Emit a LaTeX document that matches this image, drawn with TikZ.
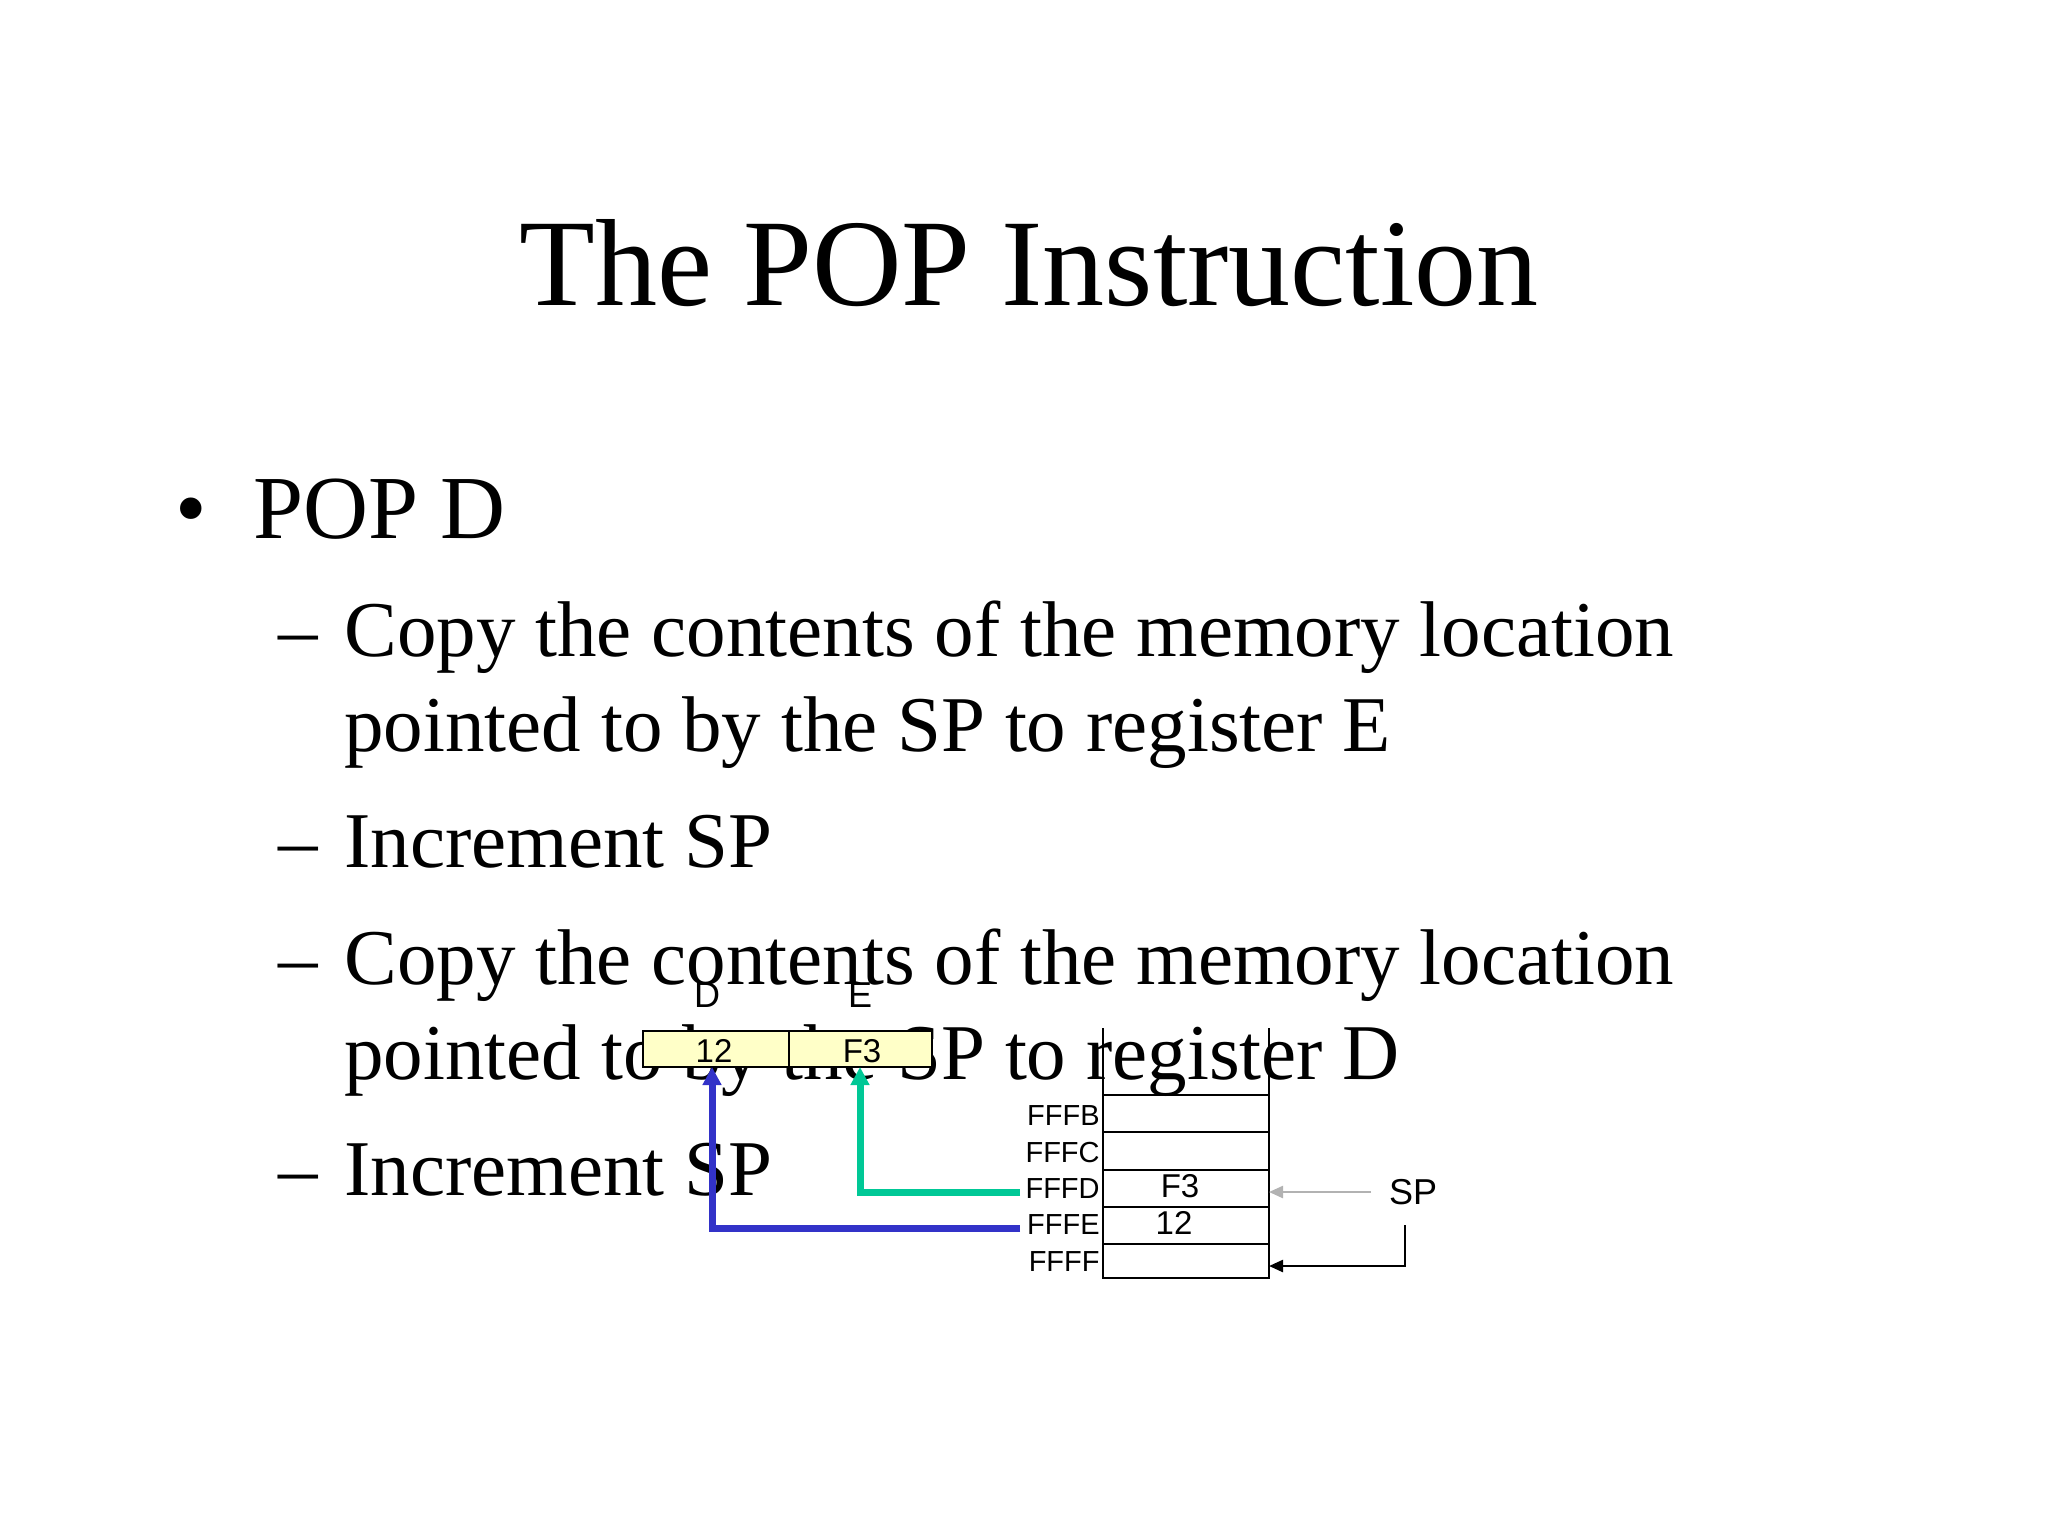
\documentclass[tikz,border=0pt]{standalone}
\usepackage{fontspec}
\setmainfont{Liberation Serif}
\newfontfamily\sans{Liberation Sans}
\usetikzlibrary{arrows.meta}
\definecolor{regy}{RGB}{255,255,200}
\definecolor{grn}{RGB}{0,200,150}
\definecolor{blu}{RGB}{50,50,200}
\tikzset{
  body/.style={anchor=base west,inner sep=0pt,font=\fontsize{39.5}{48}\selectfont},
  lbl/.style={anchor=east,inner sep=1pt,font=\sans\fontsize{14.5}{16}\selectfont},
  val/.style={inner sep=0pt,font=\sans\fontsize{16.5}{18}\selectfont},
  thick arrow/.style={line width=3.5pt,-{Triangle[length=9pt,width=9pt]}},
}
\begin{document}
\begin{tikzpicture}[x=0.5pt,y=-0.5pt]
\useasboundingbox (0,0) rectangle (2048,1536);
\node[inner sep=0pt,font=\fontsize{62}{70}\selectfont] (title) at (1029,263) {The POP Instruction};
\node[body,font=\fontsize{45}{50}\selectfont] (b0) at (175,538) {•};
\node[body,font=\fontsize{45}{50}\selectfont] (pop) at (253,538) {POP D};
\foreach \n/\y in {d1/656,d2/867,d3/984,d4/1195}{\node[body] (\n) at (278,\y) {–};}
\node[body] (t1) at (344,656) {Copy the contents of the memory location};
\node[body] (t1b) at (344,751) {pointed to by the SP to register E};
\node[body] (t2) at (344,867) {Increment SP};
\node[body] (t3) at (344,984) {Copy the contents of the memory location};
\node[body] (t3b) at (344,1079) {pointed to by the SP to register D};
\node[body] (t4) at (344,1195) {Increment SP};
\begin{scope}[shift={(-8,-11)}]
% registers
\draw[fill=regy,line width=1.2pt] (651,1042) rectangle (940,1078);
\draw[line width=1.2pt] (797,1042) -- (797,1078);
\node[val] (rd) at (722,1062) {12};
\node[val] (re) at (870,1062) {F3};
\node[val,font=\sans\fontsize{18}{20}\selectfont] (ld) at (715,1006) {D};
\node[val,font=\sans\fontsize{18}{20}\selectfont] (le) at (868,1006) {E};
\coordinate (rdb) at (720,1078);
\coordinate (reb) at (868,1078);
% memory
\draw[line width=1.3pt] (1111,1039) -- (1111,1289) -- (1277,1289) -- (1277,1039);
\foreach \y in {1106,1143,1181,1218,1255}{\draw[line width=1.3pt] (1111,\y) -- (1277,\y);}
\node[lbl] (fb) at (1110,1127) {FFFB};
\node[lbl] (fc) at (1110,1163) {FFFC};
\node[lbl] (fd) at (1110,1200) {FFFD};
\node[lbl] (fe) at (1110,1236) {FFFE};
\node[lbl] (ff) at (1110,1273) {FFFF};
\node[val] (vf3) at (1188,1197) {F3};
\node[val] (v12) at (1182,1234) {12};
\coordinate (cd) at (1277,1203);
\coordinate (cf) at (1277,1277);
\coordinate (gs) at (1028,1203);
\coordinate (bs) at (1028,1239);
% arrows
\draw[thick arrow,grn] (gs) -| (reb);
\draw[thick arrow,blu] (bs) -| (rdb);
\node[val,font=\sans\fontsize{18}{20}\selectfont] (sp) at (1421,1203) {SP};
\coordinate (spa) at (1379,1203);
\draw[gray!60,line width=1.2pt,-{Triangle[length=7pt,width=6pt]}] (spa) -- (cd);
\coordinate (spb) at (1413,1236);
\draw[line width=1.2pt,-{Triangle[length=7pt,width=6pt]}] (spb) |- (cf);
\end{scope}
\end{tikzpicture}
\end{document}
